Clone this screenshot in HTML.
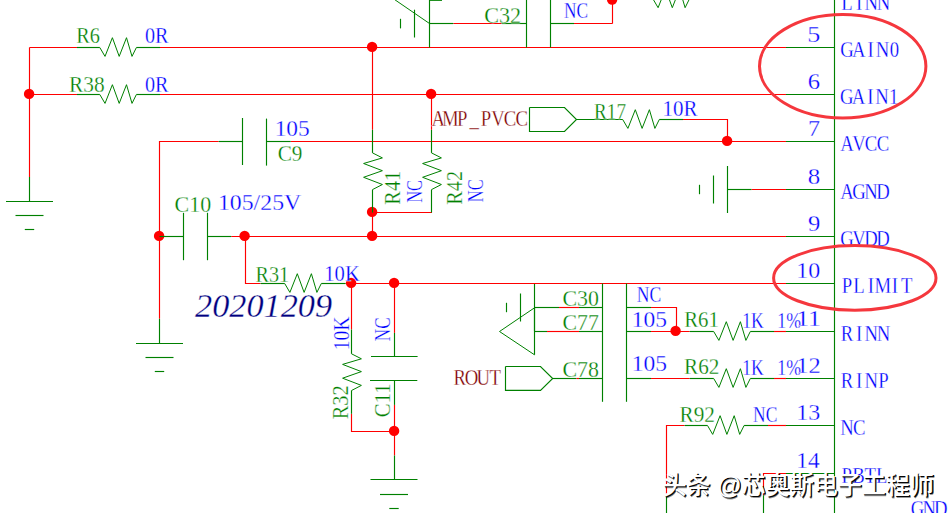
<!DOCTYPE html>
<html><head><meta charset="utf-8"><title>schematic</title>
<style>
html,body{margin:0;padding:0;background:#fff;}
body{width:950px;height:513px;overflow:hidden;}
svg{display:block;font-family:"Liberation Serif","Noto Serif CJK SC",serif;font-size:23.4px;}
</style></head><body>
<svg width="950" height="513" viewBox="0 0 950 513">
<rect width="950" height="513" fill="#fff"/>
<defs><filter id="bl" x="-5%" y="-20%" width="110%" height="140%"><feGaussianBlur stdDeviation="0.6"/></filter></defs>
<g stroke="#ff0000" stroke-width="1.15" fill="none">
<path d="M29.5 47.5 L29.5 177.0"/>
<path d="M29.5 47.5 L77.0 47.5"/>
<path d="M160.0 47.5 L786.0 47.5"/>
<path d="M29.5 94.5 L77.0 94.5"/>
<path d="M160.0 94.5 L786.0 94.5"/>
<path d="M453.3 23.5 L501.7 23.5"/>
<path d="M574.0 23.5 L612.5 23.5"/>
<path d="M612.5 -1.0 L612.5 23.5"/>
<path d="M372.5 47.5 L372.5 129.8"/>
<path d="M372.5 212.5 L372.5 236.5"/>
<path d="M431.5 94.5 L431.5 129.8"/>
<path d="M372.5 212.5 L432.0 212.5"/>
<path d="M159.5 318.8 L159.5 141.5 L218.7 141.5"/>
<path d="M290.7 141.5 L786.0 141.5"/>
<path d="M683.0 119.5 L727.5 119.5 L727.5 141.5"/>
<path d="M751.5 189.5 L786.0 189.5"/>
<path d="M231.2 236.5 L786.0 236.5"/>
<path d="M245.5 236.5 L245.5 283.5 L260.6 283.5"/>
<path d="M345.5 283.5 L786.0 283.5"/>
<path d="M351.5 283.5 L351.5 329.5"/>
<path d="M351.5 413.8 L351.5 431.5 L394.5 431.5"/>
<path d="M394.5 283.5 L394.5 332.9"/>
<path d="M394.5 404.9 L394.5 455.5"/>
<path d="M559.0 307.5 L579.0 307.5"/>
<path d="M547.0 331.5 L579.0 331.5"/>
<path d="M651.0 307.5 L676.5 307.5 L676.5 331.5"/>
<path d="M651.0 331.5 L689.7 331.5"/>
<path d="M774.0 331.5 L786.0 331.5"/>
<path d="M651.0 378.5 L689.7 378.5"/>
<path d="M774.0 378.5 L786.0 378.5"/>
<path d="M576.3 378.5 L579.0 378.5"/>
<path d="M666.5 495.2 L666.5 425.5 L684.6 425.5"/>
<path d="M768.0 425.5 L786.0 425.5"/>
<path d="M763.5 495.2 L763.5 473.5 L786.0 473.5"/>
</g>
<g fill="#ff0000">
<circle cx="29.1" cy="93.9" r="5.2"/>
<circle cx="372.1" cy="46.9" r="5.2"/>
<circle cx="431.1" cy="93.9" r="5.2"/>
<circle cx="727.1" cy="140.9" r="5.2"/>
<circle cx="372.1" cy="211.9" r="5.2"/>
<circle cx="372.1" cy="235.9" r="5.2"/>
<circle cx="244.6" cy="235.9" r="5.2"/>
<circle cx="159.1" cy="235.9" r="5.2"/>
<circle cx="351.1" cy="282.9" r="5.2"/>
<circle cx="394.1" cy="282.9" r="5.2"/>
<circle cx="394.1" cy="430.9" r="5.2"/>
<circle cx="675.6" cy="330.9" r="5.2"/>
<circle cx="612.1" cy="-0.4" r="5.2"/>
</g>
<g stroke="#008000" stroke-width="1.15" fill="none">
<path d="M77.0 47.5 L99.8 47.5"/>
<path d="M136.4 47.5 L160.0 47.5"/>
<path d="M77.0 94.5 L99.8 94.5"/>
<path d="M136.4 94.5 L160.0 94.5"/>
<path d="M29.5 177.0 L29.5 201.5"/>
<path d="M6.0 201.5 L53.0 201.5"/>
<path d="M15.5 215.5 L43.5 215.5"/>
<path d="M24.8 229.5 L34.2 229.5"/>
<path d="M786.0 47.5 L834.5 47.5"/>
<path d="M786.0 94.5 L834.5 94.5"/>
<path d="M786.0 141.5 L834.5 141.5"/>
<path d="M786.0 189.5 L834.5 189.5"/>
<path d="M786.0 236.5 L834.5 236.5"/>
<path d="M786.0 283.5 L834.5 283.5"/>
<path d="M786.0 331.5 L834.5 331.5"/>
<path d="M786.0 378.5 L834.5 378.5"/>
<path d="M786.0 425.5 L834.5 425.5"/>
<path d="M786.0 473.5 L834.5 473.5"/>
<path d="M834.5 -2.0 L834.5 515.0"/>
<path d="M429.5 -2.0 L429.5 47.5"/>
<path d="M429.5 0.3 L442.0 0.3"/>
<path d="M414.5 9.7 L414.5 37.5"/>
<path d="M400.5 18.8 L400.5 28.4"/>
<path d="M429.5 23.5 L453.3 23.5"/>
<path d="M501.7 23.5 L526.5 23.5"/>
<path d="M526.5 -2.0 L526.5 47.5"/>
<path d="M550.5 -2.0 L550.5 47.5"/>
<path d="M550.5 23.5 L574.0 23.5"/>
<path d="M372.5 129.8 L372.5 152.9"/>
<path d="M372.5 189.6 L372.5 212.5"/>
<path d="M431.5 129.8 L431.5 152.9"/>
<path d="M431.5 189.6 L431.5 212.5"/>
<path d="M218.7 141.5 L242.5 141.5"/>
<path d="M242.5 118.0 L242.5 165.0"/>
<path d="M266.5 118.6 L266.5 165.6"/>
<path d="M266.5 141.5 L290.7 141.5"/>
<path d="M159.5 318.8 L159.5 343.5"/>
<path d="M136.0 343.5 L183.0 343.5"/>
<path d="M145.5 357.5 L173.5 357.5"/>
<path d="M154.8 371.5 L164.2 371.5"/>
<path d="M529.5 107.5 L564.5 107.5 L576.5 119.5 L564.5 131.5 L529.5 131.5 L529.5 107.5"/>
<path d="M576.5 119.5 L622.7 119.5"/>
<path d="M659.3 119.5 L683.0 119.5"/>
<path d="M727.5 166.0 L727.5 213.0"/>
<path d="M713.5 175.5 L713.5 203.5"/>
<path d="M699.5 184.8 L699.5 194.2"/>
<path d="M727.5 189.5 L751.5 189.5"/>
<path d="M159.5 236.5 L183.5 236.5"/>
<path d="M183.5 212.8 L183.5 260.2"/>
<path d="M207.5 212.8 L207.5 260.2"/>
<path d="M207.5 236.5 L231.2 236.5"/>
<path d="M260.6 283.5 L284.7 283.5"/>
<path d="M321.3 283.5 L345.5 283.5"/>
<path d="M351.5 329.5 L351.5 353.8"/>
<path d="M351.5 390.5 L351.5 413.8"/>
<path d="M394.5 332.9 L394.5 356.5"/>
<path d="M371.0 356.5 L417.6 356.5"/>
<path d="M370.0 380.5 L417.3 380.5"/>
<path d="M394.5 380.5 L394.5 404.9"/>
<path d="M394.5 455.5 L394.5 479.5"/>
<path d="M370.5 479.5 L417.5 479.5"/>
<path d="M380.0 494.5 L408.0 494.5"/>
<path d="M389.3 508.5 L398.7 508.5"/>
<path d="M534.5 284.0 L534.5 331.0"/>
<path d="M520.5 293.5 L520.5 321.5"/>
<path d="M506.5 302.8 L506.5 312.2"/>
<path d="M534.5 307.8 L534.5 354.8"/>
<path d="M534.5 307.5 L559.0 307.5"/>
<path d="M579.0 307.5 L602.5 307.5"/>
<path d="M534.5 331.5 L547.0 331.5"/>
<path d="M579.0 331.5 L602.5 331.5"/>
<path d="M602.5 283.5 L602.5 401.8"/>
<path d="M626.5 283.5 L626.5 401.8"/>
<path d="M626.5 307.5 L651.0 307.5"/>
<path d="M626.5 331.5 L651.0 331.5"/>
<path d="M689.7 331.5 L713.7 331.5"/>
<path d="M750.3 331.5 L774.0 331.5"/>
<path d="M626.5 378.5 L651.0 378.5"/>
<path d="M689.7 378.5 L713.7 378.5"/>
<path d="M750.3 378.5 L774.0 378.5"/>
<path d="M505.5 366.5 L540.5 366.5 L552.7 378.5 L540.5 390.3 L505.5 390.3 L505.5 366.5"/>
<path d="M552.7 378.5 L576.3 378.5"/>
<path d="M579.0 378.5 L602.5 378.5"/>
<path d="M684.6 425.5 L707.5 425.5"/>
<path d="M744.1 425.5 L768.0 425.5"/>
<path d="M666.5 495.2 L666.5 515.0"/>
<path d="M763.5 495.2 L763.5 515.0"/>
</g>
<g stroke="#008000" stroke-width="1.0" fill="none" stroke-linejoin="miter">
<path d="M99.8 47.5 L105.0 56.4 L112.4 37.7 L119.2 56.4 L126.5 37.7 L132.0 56.4 L136.4 47.5"/>
<path d="M99.8 94.5 L105.0 103.4 L112.4 84.7 L119.2 103.4 L126.5 84.7 L132.0 103.4 L136.4 94.5"/>
<path d="M394.8 -0.3 L429.5 23.5"/>
<path d="M652.9 -1.2 L658.1 7.7 L665.5 -11.0 L672.3 7.7 L679.6 -11.0 L685.1 7.7 L689.5 -1.2"/>
<path d="M372.5 152.9 L382.4 157.9 L363.6 163.5 L382.4 170.7 L363.6 177.3 L382.4 184.5 L372.5 189.6"/>
<path d="M431.5 152.9 L441.4 157.9 L422.6 163.5 L441.4 170.7 L422.6 177.3 L441.4 184.5 L431.5 189.6"/>
<path d="M622.7 119.5 L627.9 128.4 L635.3 109.7 L642.1 128.4 L649.4 109.7 L654.9 128.4 L659.3 119.5"/>
<path d="M284.7 283.5 L289.9 292.4 L297.3 273.7 L304.1 292.4 L311.4 273.7 L316.9 292.4 L321.3 283.5"/>
<path d="M351.5 353.8 L361.4 358.8 L342.6 364.4 L361.4 371.6 L342.6 378.2 L361.4 385.4 L351.5 390.5"/>
<path d="M534.5 307.8 L499.5 331.5 L534.5 354.8"/>
<path d="M713.7 331.5 L718.9 340.4 L726.3 321.7 L733.1 340.4 L740.4 321.7 L745.9 340.4 L750.3 331.5"/>
<path d="M713.7 378.5 L718.9 387.4 L726.3 368.7 L733.1 387.4 L740.4 368.7 L745.9 387.4 L750.3 378.5"/>
<path d="M707.5 425.5 L712.7 434.4 L720.1 415.7 L726.9 434.4 L734.2 415.7 L739.7 434.4 L744.1 425.5"/>
</g>
<g stroke="#fff" stroke-width="0.3">
<text x="76.24" y="42.8" fill="#008000" textLength="23.71" lengthAdjust="spacingAndGlyphs">R6</text>
<text x="144.94" y="43.0" fill="#0000ff" textLength="23.55" lengthAdjust="spacingAndGlyphs">0R</text>
<text x="69.11" y="91.6" fill="#008000" textLength="35.58" lengthAdjust="spacingAndGlyphs">R38</text>
<text x="144.94" y="91.6" fill="#0000ff" textLength="23.55" lengthAdjust="spacingAndGlyphs">0R</text>
<text x="274.65" y="136.4" fill="#0000ff" textLength="35.13" lengthAdjust="spacingAndGlyphs">105</text>
<text x="277.65" y="161.2" fill="#008000" textLength="24.79" lengthAdjust="spacingAndGlyphs">C9</text>
<text x="174.52" y="212.4" fill="#008000" textLength="36.59" lengthAdjust="spacingAndGlyphs">C10</text>
<text x="217.92" y="210.0" fill="#0000ff" textLength="83.32" lengthAdjust="spacingAndGlyphs">105/25V</text>
<text x="255.54" y="281.5" fill="#008000" textLength="33.66" lengthAdjust="spacingAndGlyphs">R31</text>
<text x="324.30" y="280.8" fill="#0000ff" textLength="35.50" lengthAdjust="spacingAndGlyphs">10K</text>
<text transform="translate(400.0 204.66) rotate(-90)" fill="#008000" textLength="33.87" lengthAdjust="spacingAndGlyphs">R41</text>
<text transform="translate(422.3 202.85) rotate(-90)" fill="#0000ff" textLength="22.95" lengthAdjust="spacingAndGlyphs">NC</text>
<text transform="translate(461.5 204.66) rotate(-90)" fill="#008000" textLength="33.76" lengthAdjust="spacingAndGlyphs">R42</text>
<text transform="translate(483.3 202.25) rotate(-90)" fill="#0000ff" textLength="22.95" lengthAdjust="spacingAndGlyphs">NC</text>
<text transform="translate(349.4 350.31) rotate(-90)" fill="#0000ff" textLength="33.70" lengthAdjust="spacingAndGlyphs">10K</text>
<text transform="translate(389.6 341.17) rotate(-90)" fill="#0000ff" textLength="23.69" lengthAdjust="spacingAndGlyphs">NC</text>
<text transform="translate(348.0 419.36) rotate(-90)" fill="#008000" textLength="34.08" lengthAdjust="spacingAndGlyphs">R32</text>
<text transform="translate(389.8 417.13) rotate(-90)" fill="#008000" textLength="33.77" lengthAdjust="spacingAndGlyphs">C11</text>
<text transform="translate(0 125.5) scale(0.8 1)" x="547.95 562.86 577.77 592.67 607.58 622.48 637.39 652.30" y="0" fill="#800000" text-anchor="middle">AMP_PVCC</text>
<text transform="translate(0 384.6) scale(0.8 1)" x="574.62 589.38 604.12 618.87" y="0" fill="#800000" text-anchor="middle">ROUT</text>
<text x="594.07" y="118.6" fill="#008000" textLength="31.94" lengthAdjust="spacingAndGlyphs">R17</text>
<text x="662.46" y="115.6" fill="#0000ff" textLength="35.03" lengthAdjust="spacingAndGlyphs">10R</text>
<text x="484.31" y="23.4" fill="#008000" textLength="36.89" lengthAdjust="spacingAndGlyphs">C32</text>
<text x="564.12" y="17.7" fill="#0000ff" textLength="24.01" lengthAdjust="spacingAndGlyphs">NC</text>
<text x="562.52" y="306.1" fill="#008000" textLength="36.49" lengthAdjust="spacingAndGlyphs">C30</text>
<text x="562.53" y="329.8" fill="#008000" textLength="36.26" lengthAdjust="spacingAndGlyphs">C77</text>
<text x="562.52" y="376.8" fill="#008000" textLength="36.49" lengthAdjust="spacingAndGlyphs">C78</text>
<text x="636.72" y="302.3" fill="#0000ff" textLength="24.44" lengthAdjust="spacingAndGlyphs">NC</text>
<text x="631.84" y="327.0" fill="#0000ff" textLength="35.24" lengthAdjust="spacingAndGlyphs">105</text>
<text x="631.84" y="370.7" fill="#0000ff" textLength="35.24" lengthAdjust="spacingAndGlyphs">105</text>
<text x="684.13" y="327.4" fill="#008000" textLength="34.71" lengthAdjust="spacingAndGlyphs">R61</text>
<text x="684.12" y="373.8" fill="#008000" textLength="35.34" lengthAdjust="spacingAndGlyphs">R62</text>
<text x="742.15" y="327.6" fill="#0000ff" textLength="58.83" lengthAdjust="spacingAndGlyphs" word-spacing="12.0">1K 1%</text>
<text x="742.15" y="375.0" fill="#0000ff" textLength="58.83" lengthAdjust="spacingAndGlyphs" word-spacing="12.0">1K 1%</text>
<text x="679.52" y="421.5" fill="#008000" textLength="35.44" lengthAdjust="spacingAndGlyphs">R92</text>
<text x="753.12" y="422.3" fill="#0000ff" textLength="24.22" lengthAdjust="spacingAndGlyphs">NC</text>
<text transform="translate(0 9.5) scale(0.8 1)" x="1058.83 1073.98 1089.14 1104.30" y="0" fill="#0000ff" text-anchor="middle">LINN</text>
<text x="807.30" y="41.7" fill="#0000ff" textLength="13.09" lengthAdjust="spacingAndGlyphs">5</text>
<text transform="translate(0 56.8) scale(0.8 1)" x="1058.67 1073.53 1088.38 1103.22 1118.08" y="0" fill="#0000ff" text-anchor="middle">GAIN0</text>
<text x="807.75" y="88.7" fill="#0000ff" textLength="12.33" lengthAdjust="spacingAndGlyphs">6</text>
<text transform="translate(0 103.8) scale(0.8 1)" x="1058.58 1073.22 1087.87 1102.52 1117.17" y="0" fill="#0000ff" text-anchor="middle">GAIN1</text>
<text x="808.04" y="135.7" fill="#0000ff" textLength="12.02" lengthAdjust="spacingAndGlyphs">7</text>
<text transform="translate(0 150.8) scale(0.8 1)" x="1058.75 1073.75 1088.75 1103.75" y="0" fill="#0000ff" text-anchor="middle">AVCC</text>
<text x="807.86" y="183.7" fill="#0000ff" textLength="12.47" lengthAdjust="spacingAndGlyphs">8</text>
<text transform="translate(0 198.8) scale(0.8 1)" x="1058.75 1073.75 1088.75 1103.75" y="0" fill="#0000ff" text-anchor="middle">AGND</text>
<text x="808.06" y="230.7" fill="#0000ff" textLength="12.33" lengthAdjust="spacingAndGlyphs">9</text>
<text transform="translate(0 245.8) scale(0.8 1)" x="1058.75 1073.75 1088.75 1103.75" y="0" fill="#0000ff" text-anchor="middle">GVDD</text>
<text x="796.30" y="277.7" fill="#0000ff" textLength="24.00" lengthAdjust="spacingAndGlyphs">10</text>
<text transform="translate(0 292.8) scale(0.8 1)" x="1058.73 1073.69 1088.65 1103.60 1118.56 1133.52" y="0" fill="#0000ff" text-anchor="middle">PLIMIT</text>
<text x="796.15" y="325.7" fill="#0000ff" textLength="24.81" lengthAdjust="spacingAndGlyphs">11</text>
<text transform="translate(0 340.8) scale(0.8 1)" x="1058.83 1073.98 1089.14 1104.30" y="0" fill="#0000ff" text-anchor="middle">RINN</text>
<text x="796.26" y="372.7" fill="#0000ff" textLength="24.49" lengthAdjust="spacingAndGlyphs">12</text>
<text transform="translate(0 387.8) scale(0.8 1)" x="1058.83 1073.98 1089.14 1104.30" y="0" fill="#0000ff" text-anchor="middle">RINP</text>
<text x="796.30" y="419.7" fill="#0000ff" textLength="24.00" lengthAdjust="spacingAndGlyphs">13</text>
<text transform="translate(0 434.8) scale(0.8 1)" x="1058.84 1074.03" y="0" fill="#0000ff" text-anchor="middle">NC</text>
<text x="796.35" y="467.7" fill="#0000ff" textLength="23.40" lengthAdjust="spacingAndGlyphs">14</text>
<text transform="translate(0 482.8) scale(0.8 1)" x="1058.53 1073.09 1087.66 1102.22" y="0" fill="#0000ff" text-anchor="middle">PBTL</text>
<text transform="translate(0 515.6) scale(0.8 1)" x="1147.00 1161.50 1176.00" y="0" fill="#0000ff" text-anchor="middle">GND</text>
<text x="195" y="317" fill="#000080" font-size="34.3" font-style="italic" textLength="137" lengthAdjust="spacingAndGlyphs">20201209</text>
<ellipse cx="842.7" cy="66.2" rx="83.2" ry="51.7" fill="none" stroke="#f5373d" stroke-width="3"/>
<ellipse cx="854.8" cy="277.9" rx="81.2" ry="32.3" fill="none" stroke="#f5373d" stroke-width="3"/>
</g>
<g font-family="'Liberation Sans', 'Noto Sans CJK SC', sans-serif" font-size="24.6" font-weight="500"><text x="664.0" y="495.7" fill="#000" fill-opacity="0.4" filter="url(#bl)" textLength="271.5" lengthAdjust="spacingAndGlyphs">头条 @芯奥斯电子工程师</text><text x="663.7" y="495.35" fill="#050505" textLength="271.5" lengthAdjust="spacingAndGlyphs">头条 @芯奥斯电子工程师</text><text x="662.4" y="494.0" fill="#fff" textLength="271.5" lengthAdjust="spacingAndGlyphs">头条 @芯奥斯电子工程师</text></g>
</svg>
</body></html>
